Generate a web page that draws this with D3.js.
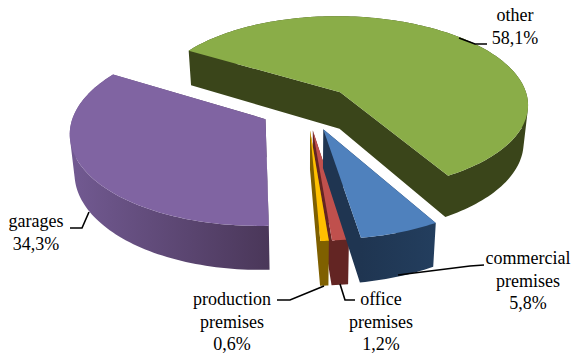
<!DOCTYPE html>
<html><head><meta charset="utf-8">
<script src="https://cdn.jsdelivr.net/npm/d3@7/dist/d3.min.js"></script>
<style>html,body{margin:0;padding:0;background:#fff}svg{display:block}text{font-family:"Liberation Serif","Times New Roman",serif;font-size:18px;fill:#000;text-anchor:middle}</style>
</head><body><svg id="c" width="574" height="354"></svg>
<script>
const categories = ["other","commercial premises","office premises","production premises","garages"];
const shares = [58.1,5.8,1.2,0.6,34.3];
const topColors = ["#8AAD48","#4F81BD","#C0504D","#FFC000","#8064A2"];
const wallLight = ["#3A451A","#1F3551","#632523","#7F6000","#725A92"];
const wallDark = ["#3A451A","#233E5E","#632523","#7F6000","#4A3759"];
const labelLines = [["other","58,1%"],["commercial","premises","5,8%"],["office","premises","1,2%"],["production","premises","0,6%"],["garages","34,3%"]];
const labelPos = [[515,21],[528,264],[381,305],[232,305],[36,227]];
const leaders = [[[459,38],[475,44],[487,44]],[[398,275],[470,266],[484,265]],[[340,284],[345,300],[355,300]],[[324,286],[290,300],[277,300]],[[89,212],[82,228],[70,228]]];
const drawOrder = [0,4,2,3,1];

const cx=307, cy=107.5, rx=190, ry=89.6, k=0.13, depth=37.5, explode=0.25;
const startDeg=301;
const svg=d3.select("#c");
const defs=svg.append("defs");
const pie=d3.pie().sort(null).startAngle(startDeg*Math.PI/180).endAngle((startDeg+360)*Math.PI/180)(shares);
const line=d3.line();
function project(x,s,z){const d=1-k*s;return [cx+rx*x/d*(1-0.02*z),cy+ry*s/d+depth*z/d];}
function facing(q){return line(d3.polygonArea(q)<0?q.slice().reverse():q)+"Z";}
drawOrder.forEach(i=>{
  const p=pie[i], mid=(p.startAngle+p.endAngle)/2;
  const ox=explode*Math.sin(mid), os=-explode*Math.cos(mid);
  const n=Math.max(4,Math.ceil((p.endAngle-p.startAngle)*40));
  const as=d3.range(n+1).map(j=>p.startAngle+(p.endAngle-p.startAngle)*j/n);
  const rim=z=>as.map(a=>project(ox+Math.sin(a),os-Math.cos(a),z));
  const apex=z=>project(ox,os,z);
  const g=svg.append("g");
  const gid="w"+i;
  const lg=defs.append("linearGradient").attr("id",gid).attr("gradientUnits","userSpaceOnUse");
  const xs=rim(0).map(d=>d[0]);
  lg.attr("x1",d3.min(xs)).attr("x2",d3.max(xs)).attr("y1",0).attr("y2",0);
  lg.append("stop").attr("offset",0).attr("stop-color",wallLight[i]);
  lg.append("stop").attr("offset",1).attr("stop-color",wallDark[i]);
  const r0=rim(0), r1=rim(1);
  const faces=[[apex(0),r0[0],r1[0],apex(1)],[apex(0),r0[n],r1[n],apex(1)]]
    .concat(d3.range(n).map(j=>[r0[j],r0[j+1],r1[j+1],r1[j]]));
  g.append("path").attr("d",faces.map(facing).join("")).attr("fill-rule","nonzero").attr("fill","url(#"+gid+")");
  g.append("path").attr("d",line([apex(0)].concat(r0))+"Z").attr("fill",topColors[i]);
});
leaders.forEach(l=>svg.append("path").attr("d",line(l)).attr("fill","none").attr("stroke","#000").attr("stroke-width",1.6));
labelLines.forEach((ls,i)=>{
  const t=svg.append("text").attr("aria-label",categories[i]);
  ls.forEach((s,j)=>t.append("tspan").attr("x",labelPos[i][0]).attr("y",labelPos[i][1]+j*22.5).text(s));
});
</script></body></html>
